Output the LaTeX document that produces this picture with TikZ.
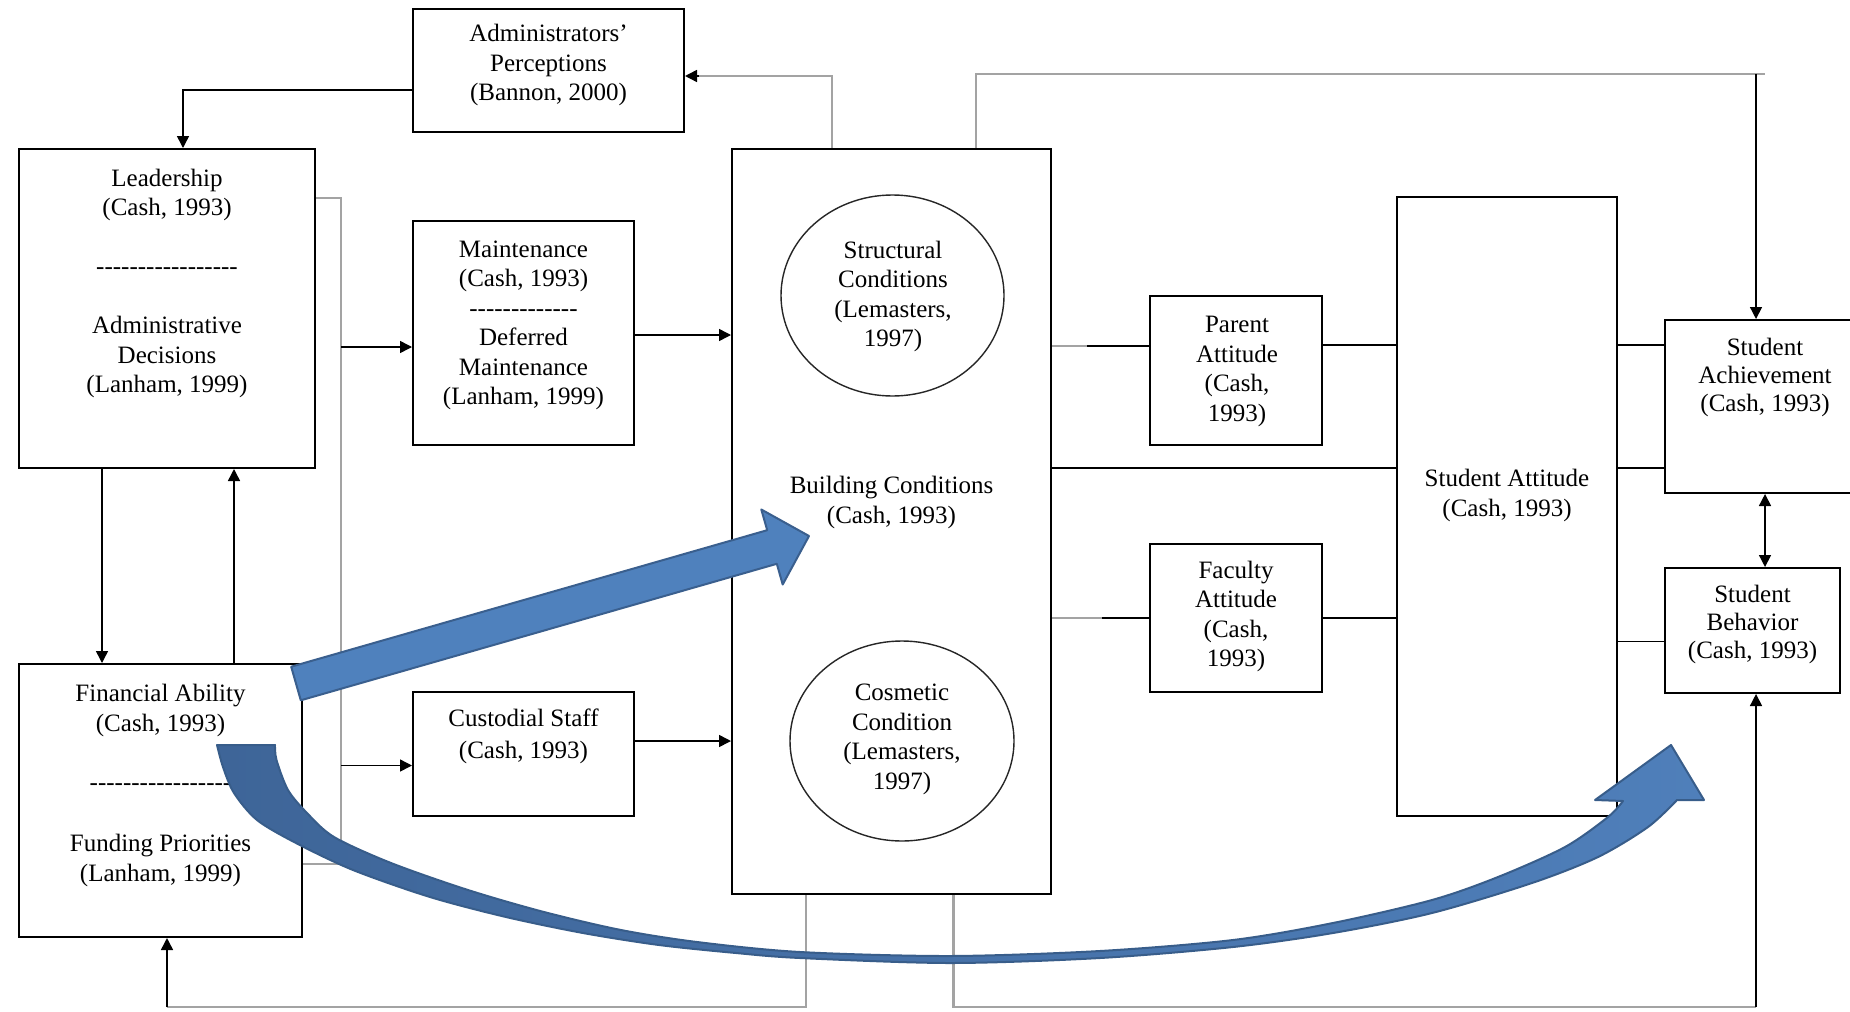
\documentclass[tikz,border=0pt]{standalone}
\usepackage{fontspec}
\setmainfont{Liberation Serif}
\usetikzlibrary{arrows.meta,calc,shapes.geometric}

\definecolor{linegray}{HTML}{A3A3A3}
\definecolor{arrowfill}{HTML}{4F81BD}
\definecolor{arrowedge}{HTML}{3A5F8E}
\definecolor{curvedark}{HTML}{3E6598}
\definecolor{curvelight}{HTML}{4F7FBA}
\definecolor{curveedge}{HTML}{385D8A}

% rows of separate hyphens (braces keep them from turning into dashes)
\newcommand\dashesA{-{}-{}-{}-{}-{}-{}-{}-{}-{}-{}-{}-{}-{}-{}-{}-{}-}
\newcommand\dashesB{-{}-{}-{}-{}-{}-{}-{}-{}-{}-{}-{}-{}-}

\begin{document}
\begin{tikzpicture}[x=0.5pt,y=-0.5pt,
  box/.style={draw=black, line width=1pt, inner sep=0pt},
  oval/.style={ellipse, draw=black!85, line width=0.7pt, inner sep=0pt},
  txt/.style={align=center, anchor=north, inner sep=0pt,
              font=\fontsize{12.5pt}{14.75pt}\selectfont},
  link/.style={draw=black, line width=0.75pt},
  bus/.style={draw=linegray, line width=1.1pt},
  tip/.style={-{Triangle[length=6pt,width=6pt]}},
  both/.style={{Triangle[length=6pt,width=6pt]}-{Triangle[length=6pt,width=6pt]}}
]
\clip (0,0) rectangle (1850,1011);
\fill[white] (0,0) rectangle (1850,1011);

% ---------------- boxes ----------------
\node[box, minimum width=135.5pt, minimum height=61.5pt] (admin)  at (548.5,70.5) {};
\node[box, minimum width=148pt,   minimum height=159.5pt] (lead)  at (167,308.5) {};
\node[box, minimum width=110.5pt, minimum height=112pt]   (maint) at (523.5,333) {};
\node[box, minimum width=141.5pt, minimum height=136.5pt] (fin)   at (160.5,800.5) {};
\node[box, minimum width=110.5pt, minimum height=62pt]    (cust)  at (523.5,754) {};
\node[box, minimum width=159.5pt, minimum height=372.5pt] (bldg)  at (891.5,521.5) {};
\node[box, minimum width=86pt,    minimum height=74.5pt]  (parent) at (1236,370.5) {};
\node[box, minimum width=86pt,    minimum height=74pt]    (fac)   at (1236,618) {};
\node[box, minimum width=110pt,   minimum height=309.5pt] (satt)  at (1507,506.5) {};
\node[box, minimum width=98.5pt,  minimum height=86.5pt]  (sach)  at (1763.5,406.5) {};
\node[box, minimum width=87.5pt,  minimum height=62.5pt]  (sbeh)  at (1752.5,630.5) {};
\node[oval, minimum width=111.5pt, minimum height=100.5pt] (struct) at (892.5,295.5) {};
\node[oval, minimum width=112pt,   minimum height=100pt]   (cosm)   at (902,741) {};

% ---------------- texts ----------------
\node[txt] (adminT) at (548.5,24) {Administrators'\\Perceptions\\(Bannon, 2000)};
\node[txt] (leadT) at (167,168.5) {Leadership\\(Cash, 1993)\\[14.75pt]\dashesA\\[14.75pt]Administrative\\Decisions\\(Lanham, 1999)};
\node[txt] (maintT) at (523.5,240.5) {Maintenance\\(Cash, 1993)\\\dashesB\\Deferred\\Maintenance\\(Lanham, 1999)};
\node[txt] (structT) at (893,240.5) {Structural\\Conditions\\(Lemasters,\\1997)};
\node[txt] (bldgT) at (891.5,476) {Building Conditions\\(Cash, 1993)};
\node[txt] (cosmT) at (902,684) {Cosmetic\\Condition\\(Lemasters,\\1997)};
\node[txt] (parentT) at (1237,316) {Parent\\Attitude\\(Cash,\\1993)};
\node[txt] (facT) at (1236,560.5) {Faculty\\Attitude\\(Cash,\\1993)};
\node[txt] (sattT) at (1507,469) {Student Attitude\\(Cash, 1993)};
\node[txt, font=\fontsize{12.5pt}{14pt}\selectfont] (sachT) at (1765,337.5) {Student\\Achievement\\(Cash, 1993)};
\node[txt, font=\fontsize{12.5pt}{14pt}\selectfont] (sbehT) at (1752.5,584.5) {Student\\Behavior\\(Cash, 1993)};
\node[txt] (finT) at (160.5,684) {Financial Ability\\(Cash, 1993)\\[14.75pt]\dashesA\\[16pt]Funding Priorities\\(Lanham, 1999)};
\node[txt, font=\fontsize{12.5pt}{16pt}\selectfont] (custT) at (523.5,708) {Custodial Staff\\(Cash, 1993)};

% ---------------- connectors ----------------
% perceptions back to leadership
\draw[link,tip] ($(admin.west)+(0,19.5)$) -| ($(lead.north)+(16,0)$);

% leadership <-> financial ability
\coordinate (ldn) at ($(lead.south)+(-65,0)$);
\draw[link,tip] (ldn) -- (ldn |- fin.north);
\coordinate (lup) at ($(lead.south)+(67,0)$);
\draw[link,tip] (lup |- fin.north) -- (lup);

% shared feed from leadership and finance
\coordinate (busT) at (341,198);
\coordinate (busB) at (341,864);
\draw[bus] (busT -| lead.east) -- (busT) -- (busB) -- (busB -| fin.east);
\coordinate (mIn) at ($(maint.west)+(0,14)$);
\draw[link,tip] (mIn -| busT) -- (mIn);
\coordinate (cIn) at ($(cust.west)+(0,11.5)$);
\draw[link,tip] (cIn -| busT) -- (cIn);

% maintenance and custodial staff into building conditions
\coordinate (mOut) at ($(maint.east)+(0,2)$);
\draw[link,tip] (mOut) -- (mOut -| bldg.west);
\coordinate (cOut) at ($(cust.east)+(0,-13)$);
\draw[link,tip] (cOut) -- (cOut -| bldg.west);

% building conditions up to perceptions
\coordinate (aIn) at ($(admin.east)+(0,5.5)$);
\coordinate (bA) at ($(bldg.north)+(-59.5,0)$);
\draw[bus] (bA) |- ($(aIn)+(12,0)$);
\draw[link,tip] ($(aIn)+(14,0)$) -- (aIn);

% building conditions over the top to achievement
\coordinate (bS) at ($(bldg.north)+(84.5,0)$);
\coordinate (sIn) at ($(sach.north)+(-7.5,0)$);
\coordinate (topR) at ($(sIn)+(0,-245)$);
\draw[bus] (bS) |- (topR) -- ++(9,0);
\draw[link,tip] (topR) -- (sIn);

% building conditions to the attitudes
\coordinate (pIn) at ($(parent.west)+(0,-24.5)$);
\draw[bus] (pIn -| bldg.east) -- ++(35,0) coordinate (pMid);
\draw[link] (pMid) -- (pIn);
\coordinate (fIn) at (fac.west);
\draw[bus] (fIn -| bldg.east) -- ++(50,0) coordinate (fMid);
\draw[link] (fMid) -- (fIn);
\coordinate (mid) at ($(bldg.east)+(0,-53.5)$);
\draw[link] (mid) -- (mid -| satt.west);

% attitudes to student attitude
\coordinate (pOut) at ($(parent.east)+(0,-25.5)$);
\draw[link] (pOut) -- (pOut -| satt.west);
\draw[link] (fac.east) -- (fac.east -| satt.west);

% student attitude to outcomes
\draw[link] (pOut -| satt.east) -- (pOut -| sach.west);
\draw[link] (mid -| satt.east) -- (mid -| sach.west);
\coordinate (bIn) at ($(sbeh.west)+(0,11)$);
\draw[link] (bIn -| satt.east) -- (bIn);
\coordinate (abx) at ($(sach.south)+(1.5,0)$);
\draw[link,both] (abx) -- (abx |- sbeh.north);

% loops along the bottom
\coordinate (bl) at ($(bldg.south)+(-85.5,0)$);
\coordinate (loopY) at ($(bl)+(0,112)$);
\coordinate (fIn2) at ($(fin.south)+(6.5,0)$);
\draw[bus] (bl) -- (loopY) -- (loopY -| fIn2);
\draw[link,tip] (loopY -| fIn2) -- (fIn2);
\coordinate (br) at ($(bldg.south)+(62,0)$);
\coordinate (sbIn) at ($(sbeh.south)+(3.5,0)$);
\draw[bus] (br) -- (br |- loopY) -- (loopY -| sbIn);
\draw[link,tip] (loopY -| sbIn) -- (sbIn);

% ---------------- block arrows ----------------
% straight arrow: financial ability -> building conditions
\draw[line width=1pt, draw=arrowedge, fill=arrowfill, line join=round]
  (291.2,666.7) -- (767.2,530.2) -- (761.3,509.5) -- (809,536)
  -- (782.7,584.5) -- (776.8,563.8) -- (300.8,700.3) -- cycle;

% curved arrow: financial ability -> student behavior
\draw[line width=1pt, draw=curveedge, left color=curvedark, right color=curvelight, line join=round]
  plot[smooth, tension=0.5] coordinates {(217,745) (223,767) (234,793) (257,820) (296,843) (353,870) (430,897) (506,917) (583,933) (659,945) (736,953) (800,958) (950,963) (1100,958) (1233,947) (1333,933) (1432,913) (1532,883) (1598,857) (1648,827) (1677,800)}
  -- (1704,800) -- (1671,745) -- (1595,800) -- (1623,801)
  -- plot[smooth, tension=0.5] coordinates {(1623,801) (1608,817) (1565,847) (1498,877) (1432,900) (1333,923) (1233,940) (1100,951) (950,956) (800,952) (697,942) (621,930) (544,912) (468,890) (391,863) (334,837) (307,813) (288,790) (276.5,760) (275,745)}
  -- cycle;
\end{tikzpicture}
\end{document}
